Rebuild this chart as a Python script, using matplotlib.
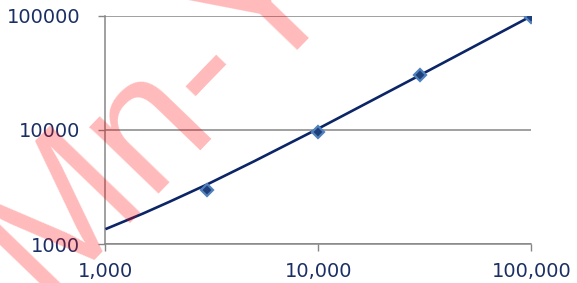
import numpy as np
import matplotlib
matplotlib.use('Agg')
import matplotlib.pyplot as plt
from matplotlib.ticker import FixedLocator, FixedFormatter, NullLocator

# puntos medidos
x_pts = [3000, 10000, 30000, 100000]
y_pts = [2950, 9700, 30600, 98700]

# linea de tendencia
x_trend = [1000, 1500, 2000, 3000, 5000, 10000, 30000, 100000]
y_trend = [1350, 1850, 2350, 3330, 5330, 10300, 30300, 100000]

x_ticks = [1000, 10000, 100000]
x_labels = ['1,000', '10,000', '100,000']
y_ticks = [1000, 10000, 100000]
y_labels = ['1000', '10000', '100000']

grey = '#868686'
navy = '#1b2f66'

fig = plt.figure(figsize=(5.77, 2.83), dpi=100)
ax = fig.add_axes([0.1828, 0.1378, 0.7383, 0.8057])

ax.set_xscale('log')
ax.set_yscale('log')
ax.set_xlim(1000, 100000)
ax.set_ylim(1000, 100000)

ax.plot(x_trend, y_trend, color='#0b2566', lw=1.9, zorder=3, solid_capstyle='butt')
ax.plot(x_pts, y_pts, ls='none', marker='D', ms=6, mfc='#1f3f7a', mec='#4f81bd', mew=1.6, zorder=4)

ax.xaxis.set_major_locator(FixedLocator(x_ticks))
ax.xaxis.set_major_formatter(FixedFormatter(x_labels))
ax.xaxis.set_minor_locator(NullLocator())
ax.yaxis.set_major_locator(FixedLocator(y_ticks))
ax.yaxis.set_major_formatter(FixedFormatter(y_labels))
ax.yaxis.set_minor_locator(NullLocator())

ax.tick_params(axis='both', direction='out', length=5, width=1, color=grey,
               labelsize=14, labelcolor=navy)
ax.tick_params(axis='x', pad=8)
ax.tick_params(axis='y', pad=13)

ax.grid(True, axis='y', color=grey, lw=1.1)
ax.grid(False, axis='x')
for s in ['top', 'right']:
    ax.spines[s].set_visible(False)
for s in ['left', 'bottom']:
    ax.spines[s].set_color(grey)
    ax.spines[s].set_linewidth(1.1)

# marca de agua
fig.text(0.072, -0.06, 'Mn-Yu', fontsize=130, family='Liberation Sans', color='red', alpha=0.27,
         rotation=46, rotation_mode='anchor', ha='left', va='baseline', zorder=10)

fig.savefig('out.png', dpi=100)
